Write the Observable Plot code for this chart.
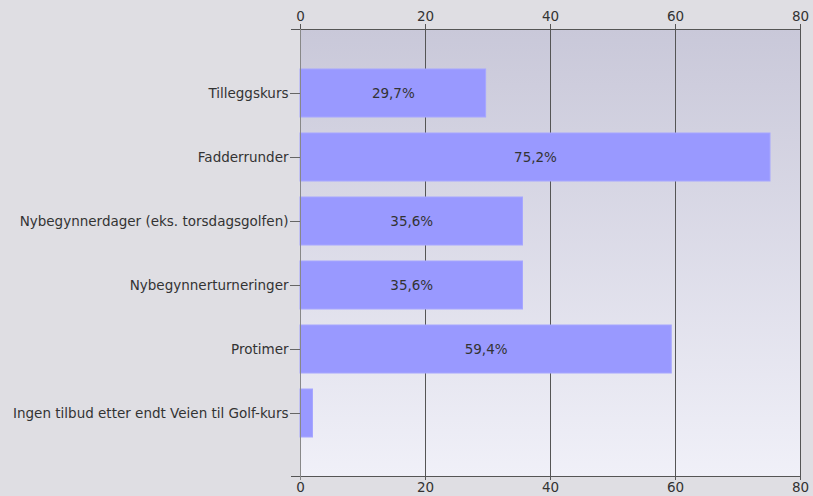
<!DOCTYPE html>
<html>
<head>
<meta charset="utf-8">
<script src="https://cdn.jsdelivr.net/npm/d3@7"></script>
<script src="https://cdn.jsdelivr.net/npm/@observablehq/plot@0.6"></script>
<style>
  html, body { margin: 0; padding: 0; background: #dfdee3; }
  #chart svg { display: block; }
</style>
</head>
<body>
<div id="chart"></div>
<script>
const categories = [
  "Tilleggskurs",
  "Fadderrunder",
  "Nybegynnerdager (eks. torsdagsgolfen)",
  "Nybegynnerturneringer",
  "Protimer",
  "Ingen tilbud etter endt Veien til Golf-kurs"
];
const values = [29.7, 75.2, 35.6, 35.6, 59.4, 2.0];
const xTicks = [0, 20, 40, 60, 80];

const data = categories.map((c, i) => ({category: c, value: values[i]}));
const fmt = v => v.toFixed(1).replace(".", ",") + "%";

const background = (index, scales, values, dim) => {
  const ns = "http://www.w3.org/2000/svg";
  const g = document.createElementNS(ns, "g");
  const defs = document.createElementNS(ns, "defs");
  defs.innerHTML = `<linearGradient id="bggrad" x1="0" y1="0" x2="0" y2="1">
      <stop offset="0" stop-color="#c9c8d9"/>
      <stop offset="1" stop-color="#f0f0f8"/>
    </linearGradient>`;
  g.appendChild(defs);
  const r = document.createElementNS(ns, "rect");
  r.setAttribute("x", dim.marginLeft);
  r.setAttribute("y", dim.marginTop);
  r.setAttribute("width", dim.width - dim.marginLeft - dim.marginRight);
  r.setAttribute("height", dim.height - dim.marginTop - dim.marginBottom);
  r.setAttribute("fill", "url(#bggrad)");
  g.appendChild(r);
  return g;
};

const edges = (index, scales, values, dim) => {
  const ns = "http://www.w3.org/2000/svg";
  const g = document.createElementNS(ns, "g");
  g.setAttribute("stroke", "#555");
  g.setAttribute("shape-rendering", "crispEdges");
  const x0 = dim.marginLeft, x1 = dim.width - dim.marginRight;
  const y0 = dim.marginTop, y1 = dim.height - dim.marginBottom;
  const lines = [
    [x0 - 9, y0 + 0.5, x1, y0 + 0.5],
    [x0 - 9, y1 + 0.5, x1, y1 + 0.5],
    [x0 + 0.5, y0, x0 + 0.5, y1 + 4]
  ];
  for (const [a, b, c, d] of lines) {
    const l = document.createElementNS(ns, "line");
    l.setAttribute("x1", a); l.setAttribute("y1", b);
    l.setAttribute("x2", c); l.setAttribute("y2", d);
    if (a === x0 + 0.5) l.setAttribute("stroke", "#888");
    g.appendChild(l);
  }
  return g;
};

const chart = Plot.plot({
  width: 813,
  height: 496,
  marginLeft: 300,
  marginRight: 13,
  marginTop: 29,
  marginBottom: 20,
  style: {background: "transparent", fontFamily: "DejaVu Sans, Verdana, sans-serif", fontSize: "12px", color: "#333"},
  x: {domain: [0, 80], axis: null},
  y: {domain: categories, padding: 0.25, paddingOuter: 0.617, axis: null},
  marks: [
    background,
    Plot.gridX(xTicks, {stroke: "#555", strokeOpacity: 1}),
    Plot.barX(data, {y: "category", x: "value", fill: "#9999ff", stroke: "#a6a6ff", strokeWidth: 1}),
    Plot.text(data.filter(d => d.value > 5), {y: "category", x: d => d.value / 2, text: d => fmt(d.value), fill: "#333", fontSize: 13.5}),
    Plot.axisX(xTicks, {anchor: "top", label: null, tickSize: 6, tickPadding: 3, fontSize: 13.5, stroke: "#555", fill: "#333"}),
    Plot.axisX(xTicks, {anchor: "bottom", label: null, tickSize: 4, tickPadding: 2, fontSize: 13.5, stroke: "#555", fill: "#333"}),
    Plot.axisY({anchor: "left", label: null, tickSize: 10, tickPadding: 2, fontSize: 13.5, stroke: "#666", fill: "#333"}),
    edges
  ]
});
document.getElementById("chart").appendChild(chart);
</script>
</body>
</html>
